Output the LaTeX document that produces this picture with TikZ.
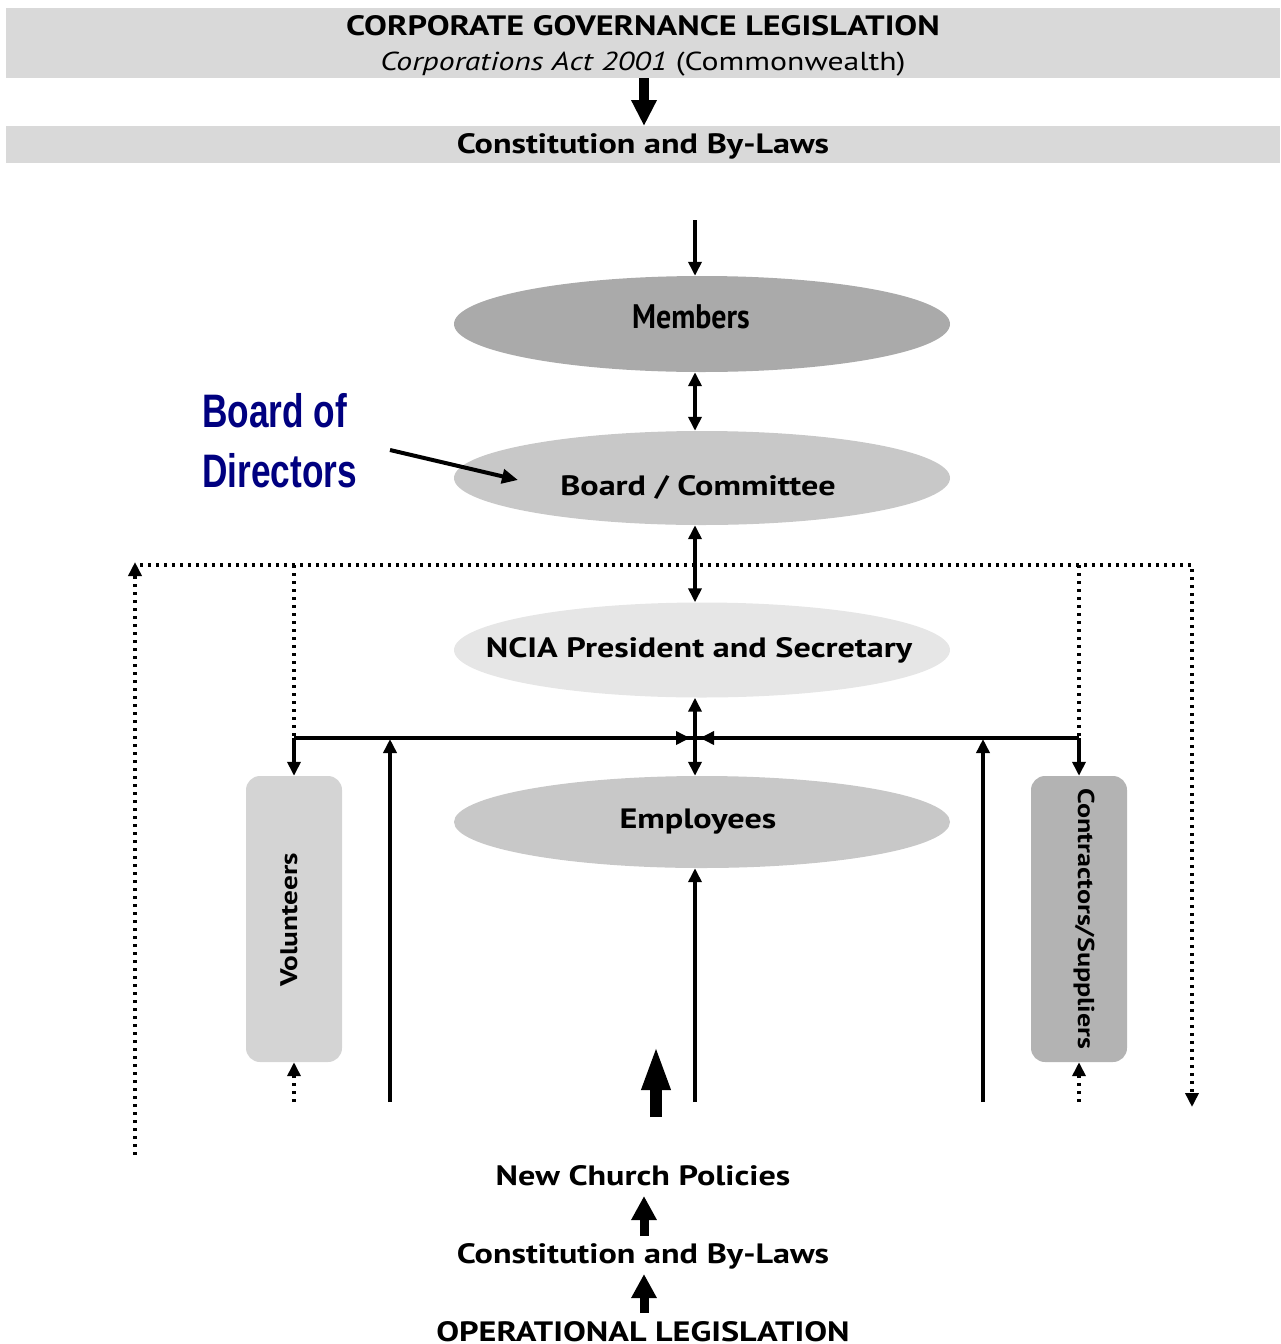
\documentclass[tikz,border=0pt]{standalone}
\usepackage{fontspec}
\setmainfont[FakeStretch=1.22]{PT Sans}
\newfontfamily\memfont[FakeStretch=0.88]{PT Sans}
\newfontfamily\bodfont[FakeStretch=0.75]{Liberation Sans}
\usetikzlibrary{arrows.meta,shapes.geometric}
\definecolor{bandgray}{gray}{0.85}
\definecolor{memgray}{HTML}{AAAAAA}
\definecolor{boardgray}{HTML}{C8C8C8}
\definecolor{nciagray}{HTML}{E6E6E6}
\definecolor{volgray}{HTML}{D4D4D4}
\definecolor{congray}{HTML}{B3B3B3}
\definecolor{bodblue}{HTML}{000080}
\tikzset{
  lbl/.style={font=\bfseries\fontsize{28}{30}\selectfont, anchor=base, inner sep=0},
  ell/.style={ellipse, minimum width=496pt, inner sep=0, draw=none},
  sarr/.style={line width=3.5pt, -{Triangle[length=14pt,width=13pt]}},
  dbl/.style={line width=3.5pt, {Triangle[length=14pt,width=13pt]}-{Triangle[length=14pt,width=13pt]}},
  dots/.style={line width=3.5pt, dash pattern=on 3pt off 5pt},
  fat/.style={line width=10pt, -{Triangle[length=26pt,width=24pt]}},
  midfat/.style={line width=9pt, -{Triangle[length=24pt,width=24pt]}},
  vbox/.style={rounded corners=14pt, minimum width=96pt, minimum height=286pt, inner sep=0},
  band/.style={fill=bandgray, minimum width=1274pt, inner sep=0, anchor=north west},
  bodtxt/.style={font=\bodfont\bfseries\fontsize{47}{50}\selectfont, text=bodblue, anchor=base west, inner sep=0},
}
\begin{document}
\begin{tikzpicture}[x=1pt,y=-1pt]
\useasboundingbox (0,0) rectangle (1280,1344);
% bands
\node[band, minimum height=70pt] (band1) at (6,8) {};
\node[band, minimum height=37pt] (band2) at (6,126) {};
\node[lbl] (cgl) at (643,35) {CORPORATE GOVERNANCE LEGISLATION};
\node[lbl, font=\fontsize{26}{28}\selectfont] (act) at (643,70) {\textit{Corporations Act 2001} (Commonwealth)};
\node[lbl] (cbl1) at (643,153) {Constitution and By-Laws};
\coordinate (tx) at (644,0);
\draw[fat] (band1.south -| tx) -- (band2.north -| tx);
% ellipses
\coordinate (ax) at (695,0);
\node[ell, minimum height=96pt, fill=memgray] (mem) at (702,324) {};
\node[ell, minimum height=94pt, fill=boardgray] (bc) at (702,478) {};
\node[ell, minimum height=95pt, fill=nciagray] (ncia) at (702,650) {};
\node[ell, minimum height=92pt, fill=boardgray] (emp) at (702,822) {};
\node[lbl, font=\memfont\bfseries\fontsize{34}{36}\selectfont] at (691,328) {Members};
\node[lbl] at (698,495) {Board / Committee};
\node[lbl] at (699,657) {NCIA President and Secretary};
\node[lbl] at (698,828) {Employees};
\coordinate (memin) at (695,220);
\draw[sarr] (memin) -- (mem.north -| ax);
\draw[dbl] (mem.south -| ax) -- (bc.north -| ax);
\draw[dbl] (bc.south -| ax) -- (ncia.north -| ax);
\draw[dbl] (ncia.south -| ax) -- (emp.north -| ax);
% board of directors
\node[bodtxt] (bod1) at (202,427) {Board of};
\node[bodtxt] (bod2) at (202,487) {Directors};
\coordinate (bods) at (390,450);
\coordinate (bode) at (518,480);
\draw[line width=4pt, -{Triangle[length=16pt,width=14pt]}] (bods) -- (bode);
% side boxes
\node[vbox, fill=volgray] (vol) at (294,919) {};
\node[vbox, fill=congray] (con) at (1079,919) {};
\node[font=\bfseries\fontsize{24}{26}\selectfont, rotate=90, inner sep=0] at (289,920) {Volunteers};
\node[font=\bfseries\fontsize{23}{25}\selectfont, rotate=-90, inner sep=0] at (1084,919) {Contractors/Suppliers};
% junction
\coordinate (vj) at (294,738);
\coordinate (cj) at (1079,738);
\coordinate (jl) at (690,738);
\coordinate (jr) at (700,738);
\draw[line width=3.5pt] (vj) -- (cj);
\draw[sarr] (vj) -- (jl);
\draw[sarr] (cj) -- (jr);
\draw[sarr] (vj) -- (vol.north);
\draw[sarr] (cj) -- (con.north);
\coordinate (u1s) at (390,1102); \coordinate (u1e) at (390,739);
\coordinate (u2s) at (983,1102); \coordinate (u2e) at (983,739);
\coordinate (u3s) at (695,1102);
\draw[sarr] (u1s) -- (u1e);
\draw[sarr] (u2s) -- (u2e);
\draw[sarr] (u3s) -- (emp.south -| ax);
% dotted
\coordinate (dl) at (140,565);
\coordinate (dr) at (1192,565);
\coordinate (drb) at (1192,1107);
\coordinate (dlb) at (135,1155);
\coordinate (dlt) at (135,562);
\coordinate (vt) at (294,565);
\coordinate (ct) at (1079,565);
\draw[dots, -{Triangle[length=14pt,width=13pt]}] (dl) -- (dr) -- (drb);
\draw[dots, -{Triangle[length=14pt,width=13pt]}] (dlb) -- (dlt);
\draw[dots] (vt) -- (vj);
\draw[dots] (ct) -- (cj);
\coordinate (vb) at (294,1102);
\coordinate (cb) at (1079,1102);
\draw[dots, -{Triangle[length=14pt,width=13pt]}] (vb) -- (vol.south);
\draw[dots, -{Triangle[length=14pt,width=13pt]}] (cb) -- (con.south);
% bottom
\coordinate (bfs) at (656,1117);
\coordinate (bfe) at (656,1045);
\draw[line width=12pt, -{Triangle[length=45pt,width=26pt]}] (bfs) -- (bfe);
\node[lbl] (ncp) at (643,1185) {New Church Policies};
\node[lbl] (cbl2) at (643,1263) {Constitution and By-Laws};
\node[lbl] (opl) at (643,1341) {OPERATIONAL LEGISLATION};
\coordinate (a1s) at (644,1236);
\coordinate (a1e) at (644,1196);
\coordinate (a2s) at (644,1313);
\coordinate (a2e) at (644,1274);
\draw[midfat] (a1s) -- (a1e);
\draw[midfat] (a2s) -- (a2e);
\end{tikzpicture}
\end{document}
